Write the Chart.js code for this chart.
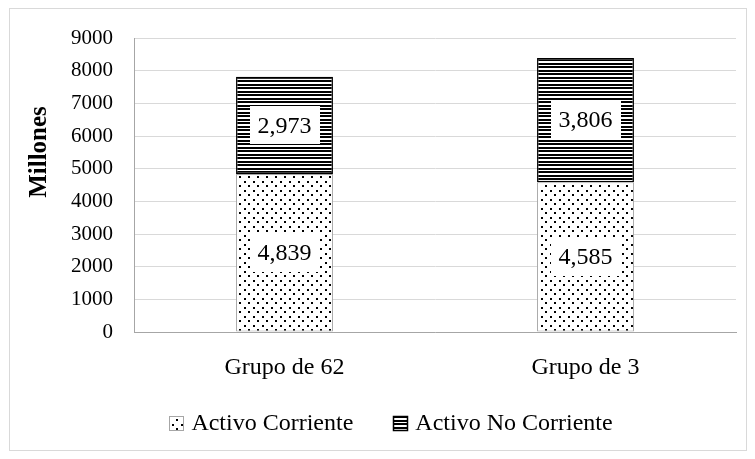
<!DOCTYPE html>
<html>
<head>
<meta charset="utf-8">
<script src="https://cdn.jsdelivr.net/npm/chart.js@4.4.0/dist/chart.umd.min.js"></script>
<style>
html,body{margin:0;padding:0;background:#fff;}
#wrap{width:755px;height:459px;position:relative;}
</style>
</head>
<body>
<div id="wrap"><canvas id="c" width="755" height="459"></canvas></div>
<script>
const categories = ["Grupo de 62", "Grupo de 3"];
const seriesNames = ["Activo Corriente", "Activo No Corriente"];
const activoCorriente = [4839, 4585];
const activoNoCorriente = [2973, 3806];
const yTicks = [0, 1000, 2000, 3000, 4000, 5000, 6000, 7000, 8000, 9000];
const yTitle = "Millones";

const FONT = "'Liberation Serif', 'Times New Roman', serif";

function dotPattern() {
  const p = document.createElement('canvas');
  p.width = 9; p.height = 9;
  const g = p.getContext('2d');
  g.fillStyle = '#fff'; g.fillRect(0, 0, 9, 9);
  g.fillStyle = '#000';
  g.fillRect(1, 1, 2, 2);
  g.fillRect(5, 5, 2, 2);
  return g.createPattern(p, 'repeat');
}
function linePattern() {
  const p = document.createElement('canvas');
  p.width = 7; p.height = 7;
  const g = p.getContext('2d');
  g.fillStyle = '#fff'; g.fillRect(0, 0, 7, 7);
  g.fillStyle = '#000';
  g.fillRect(0, 0, 7, 2);
  g.fillRect(0, 3, 7, 2);
  return g.createPattern(p, 'repeat');
}

const fmt = v => v.toLocaleString('en-US');

const extras = {
  id: 'extras',
  beforeDraw(chart) {
    const ctx = chart.ctx;
    ctx.save();
    ctx.strokeStyle = '#d9d9d9';
    ctx.lineWidth = 1;
    ctx.strokeRect(9.5, 8.5, 737, 442);
    ctx.restore();
  },
  afterDatasetsDraw(chart) {
    const ctx = chart.ctx;
    ctx.save();
    ctx.font = "24px " + FONT;
    ctx.textAlign = 'center';
    ctx.textBaseline = 'middle';
    chart.data.datasets.forEach((ds, di) => {
      const meta = chart.getDatasetMeta(di);
      meta.data.forEach((bar, i) => {
        const txt = fmt(ds.data[i]);
        const cy = (bar.y + bar.base) / 2;
        const w = ctx.measureText(txt).width + 16;
        const h = 38;
        ctx.fillStyle = '#fff';
        ctx.fillRect(Math.round(bar.x - w / 2), Math.round(cy - h / 2), Math.round(w), h);
        ctx.fillStyle = '#000';
        ctx.fillText(txt, bar.x, cy + 1);
      });
    });
    ctx.restore();

    // y title
    ctx.save();
    ctx.translate(40, 152);
    ctx.rotate(-Math.PI / 2);
    ctx.font = "bold 25px " + FONT;
    ctx.textAlign = 'center';
    ctx.textBaseline = 'middle';
    ctx.fillStyle = '#000';
    ctx.fillText(yTitle, 0, 0);
    ctx.restore();

    // legend
    ctx.save();
    ctx.font = "24px " + FONT;
    ctx.textBaseline = 'middle';
    ctx.textAlign = 'left';
    const box = 14, gapText = 8, gapItem = 40, cy = 423;
    const widths = chart.data.datasets.map(ds => box + gapText + ctx.measureText(ds.label).width);
    const total = widths.reduce((a, b) => a + b, 0) + gapItem * (widths.length - 1);
    let x = 391 - total / 2;
    chart.data.datasets.forEach((ds, di) => {
      const by = Math.round(cy - box / 2) + 0.5;
      const bx = Math.round(x) + 0.5;
      ctx.fillStyle = ds.backgroundColor;
      ctx.fillRect(bx, by, box, box);
      ctx.strokeStyle = ds.borderColor;
      ctx.lineWidth = di === 0 ? 1 : 1.5;
      ctx.strokeRect(bx, by, box, box);
      ctx.fillStyle = '#000';
      ctx.fillText(ds.label, x + box + gapText, cy + 1);
      x += widths[di] + gapItem;
    });
    ctx.restore();
  }
};

new Chart(document.getElementById('c'), {
  type: 'bar',
  data: {
    labels: categories,
    datasets: [
      {
        label: seriesNames[0],
        data: activoCorriente,
        backgroundColor: dotPattern(),
        borderColor: '#a6a6a6',
        borderWidth: 1,
        borderSkipped: false,
        categoryPercentage: 1,
        barPercentage: 0.322
      },
      {
        label: seriesNames[1],
        data: activoNoCorriente,
        backgroundColor: linePattern(),
        borderColor: '#000',
        borderWidth: 1.5,
        borderSkipped: false,
        categoryPercentage: 1,
        barPercentage: 0.322
      }
    ]
  },
  options: {
    responsive: false,
    animation: false,
    layout: { padding: { left: 10, right: 19, top: 38, bottom: 57 } },
    plugins: {
      tooltip: { enabled: false },
      legend: { display: false }
    },
    scales: {
      x: {
        stacked: true,
        grid: { display: false, drawTicks: false },
        border: { color: '#a6a6a6', width: 1 },
        ticks: { font: { family: FONT, size: 24 }, color: '#000', padding: 21 },
        afterFit(s) { s.height = 70; }
      },
      y: {
        stacked: true,
        min: 0,
        max: 9000,
        afterBuildTicks(s) { s.ticks = yTicks.map(v => ({ value: v })); },
        grid: { color: '#d9d9d9', drawTicks: false },
        border: { color: '#a6a6a6', width: 1 },
        ticks: { font: { family: FONT, size: 21 }, color: '#000', padding: 21, callback: v => String(v) },
        afterFit(s) { s.width = 124; }
      }
    }
  },
  plugins: [extras]
});
</script>
</body>
</html>
